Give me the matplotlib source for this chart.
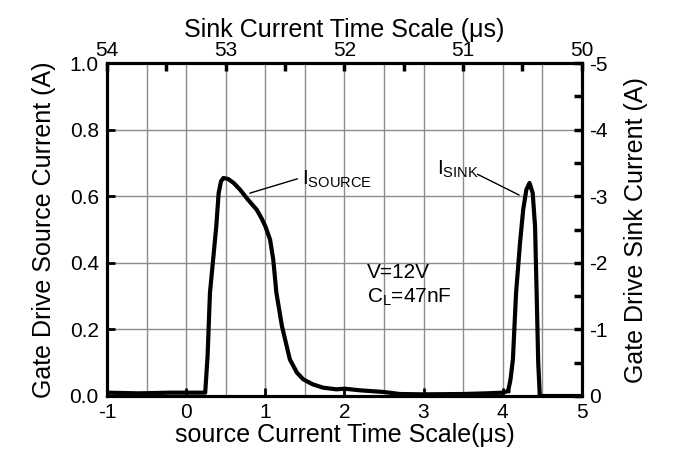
import matplotlib
matplotlib.use("Agg")
import matplotlib.pyplot as plt
import numpy as np

plt.rcParams['font.family'] = ['Liberation Sans', 'DejaVu Sans']
plt.rcParams['mathtext.fontset'] = 'custom'
plt.rcParams['mathtext.rm'] = 'Liberation Sans'
plt.rcParams['mathtext.it'] = 'Liberation Sans'
plt.rcParams['axes.unicode_minus'] = False

# Source current trace (time in us, current in A)
src_t = [-1.0, -0.6, -0.2, 0.1, 0.24, 0.27, 0.30, 0.34, 0.38, 0.41, 0.44, 0.47, 0.53,
         0.60, 0.68, 0.78, 0.89, 0.95, 1.00, 1.06, 1.10, 1.14, 1.21, 1.31, 1.40, 1.48,
         1.60, 1.73, 1.90, 2.00, 2.20, 2.50, 2.70, 3.0, 3.5, 3.8, 4.0, 4.07]
src_i = [0.010, 0.008, 0.010, 0.010, 0.010, 0.12, 0.31, 0.41, 0.51, 0.61, 0.645, 0.655, 0.652,
         0.64, 0.62, 0.59, 0.56, 0.535, 0.51, 0.47, 0.41, 0.31, 0.21, 0.11, 0.07, 0.05,
         0.035, 0.025, 0.02, 0.022, 0.017, 0.012, 0.006, 0.005, 0.006, 0.008, 0.010, 0.015]

# Sink current trace (time in us, current in A on left scale)
sink_t = [4.07, 4.10, 4.13, 4.17, 4.22, 4.26, 4.30, 4.34, 4.38, 4.41, 4.43, 4.45, 4.47, 4.6, 5.0]
sink_i = [0.015, 0.05, 0.11, 0.31, 0.46, 0.56, 0.62, 0.64, 0.61, 0.51, 0.31, 0.10, 0.0, 0.0, 0.0]

x_ticks = [-1, 0, 1, 2, 3, 4, 5]
y_ticks = [0.0, 0.2, 0.4, 0.6, 0.8, 1.0]
top_ticks = [54, 53, 52, 51, 50]
right_ticks = [0, -1, -2, -3, -4, -5]

fig = plt.figure(figsize=(6.78, 4.61), dpi=100)
ax = fig.add_axes([0.158, 0.141, 0.700, 0.722])

ax.plot(src_t, src_i, color='black', lw=3, solid_joinstyle='round', zorder=3)
ax.plot(sink_t, sink_i, color='black', lw=3, solid_joinstyle='round', zorder=3)

ax.set_xlim(-1, 5)
ax.set_ylim(0, 1.0)
ax.set_xticks(x_ticks)
ax.set_xticks(np.arange(-1, 5.01, 0.5), minor=True)
ax.set_yticks(y_ticks)
ax.set_yticklabels([f"{v:.1f}" for v in y_ticks])
ax.grid(True, which='both', axis='x', color='#8c8c8c', lw=1)
ax.grid(True, which='major', axis='y', color='#8c8c8c', lw=1)
ax.tick_params(axis='both', which='both', direction='in', labelsize=15, width=2, length=6)
ax.tick_params(axis='x', which='minor', length=0)
ax.tick_params(axis='x', pad=5)
ax.tick_params(axis='y', pad=6)
for s in ax.spines.values():
    s.set_linewidth(2.2)
ax.set_xlabel('source Current Time Scale(μs)', fontsize=18, labelpad=1)
ax.set_ylabel('Gate Drive Source Current (A)', fontsize=18, labelpad=10)

axt = ax.twiny()
axt.set_xlim(54, 50)
axt.set_xticks(top_ticks)
axt.set_xticks([53.5, 52.5, 51.5, 50.5], minor=True)
axt.tick_params(axis='x', which='both', direction='in', labelsize=15, width=2.5, length=6, pad=2)
axt.set_xlabel('Sink Current Time Scale (μs)', fontsize=18, labelpad=3)

axr = ax.twinx()
axr.set_ylim(0, -5)
axr.set_yticks(right_ticks)
axr.set_yticklabels([str(v) for v in right_ticks])
axr.set_yticks(np.arange(-0.5, -5, -1), minor=True)
axr.tick_params(axis='y', which='both', direction='in', labelsize=15, width=2.5, length=6, pad=5)
axr.set_ylabel('Gate Drive Sink Current (A)', fontsize=18, labelpad=12)
for a in (axt, axr):
    for s in a.spines.values():
        s.set_linewidth(2.2)

# Annotations
ax.annotate('', xy=(0.77, 0.607), xytext=(1.44, 0.655),
            arrowprops=dict(arrowstyle='-', color='black', lw=1), zorder=4)
ax.text(1.46, 0.65, r'I$_{\rm SOURCE}$', fontsize=15, ha='left', va='center')
ax.annotate('', xy=(4.24, 0.60), xytext=(3.65, 0.67),
            arrowprops=dict(arrowstyle='-', color='black', lw=1), zorder=4)
ax.text(3.17, 0.68, r'I$_{\rm SINK}$', fontsize=15, ha='left', va='center')
ax.text(2.28, 0.37, 'V=12V', fontsize=15, ha='left', va='center')
ax.text(2.28, 0.295, r'C$_{\rm L}$=47nF', fontsize=15, ha='left', va='center')

fig.savefig('out.png', dpi=100)
